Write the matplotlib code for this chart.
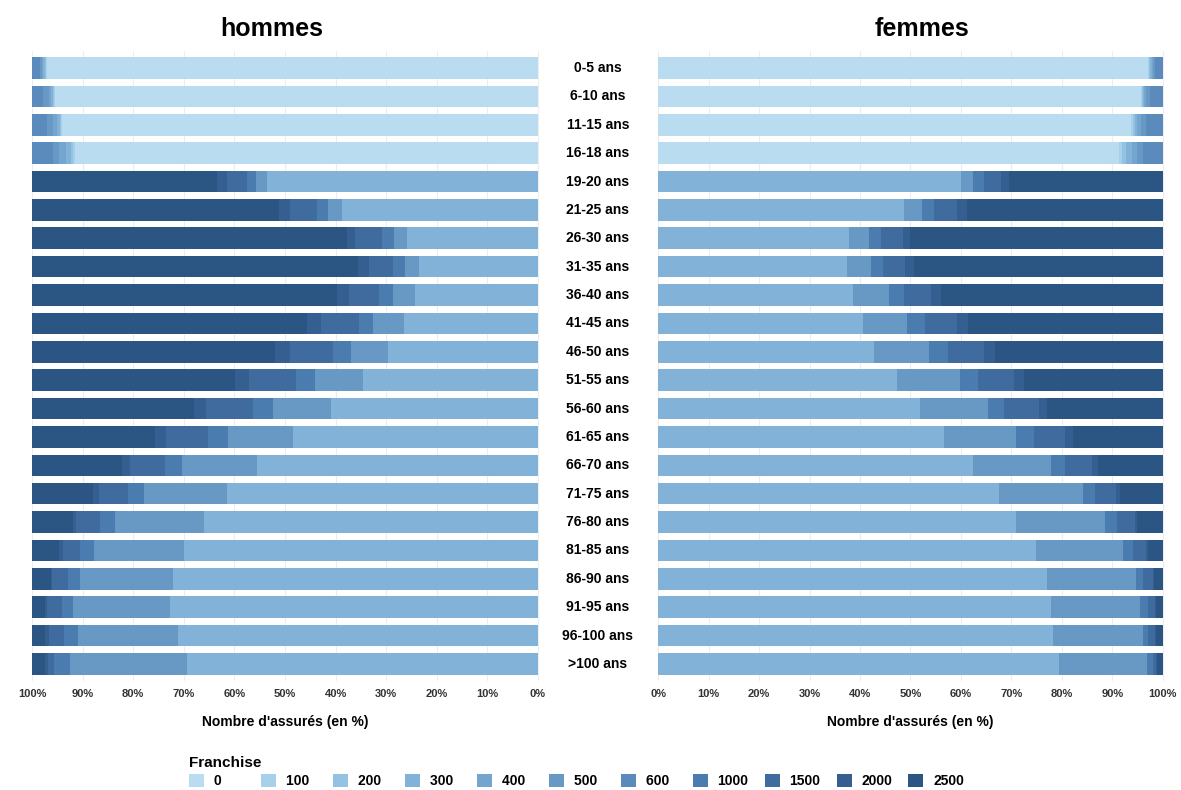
import matplotlib.pyplot as plt
import matplotlib.transforms as mtransforms
from matplotlib.patches import Patch
import numpy as np

plt.rcParams['font.family'] = ['Liberation Sans', 'DejaVu Sans']

# Tranches d'âge (de haut en bas)
ages = ['0-5 ans', '6-10 ans', '11-15 ans', '16-18 ans', '19-20 ans', '21-25 ans',
        '26-30 ans', '31-35 ans', '36-40 ans', '41-45 ans', '46-50 ans', '51-55 ans',
        '56-60 ans', '61-65 ans', '66-70 ans', '71-75 ans', '76-80 ans', '81-85 ans',
        '86-90 ans', '91-95 ans', '96-100 ans', '>100 ans']

franchises = ['0', '100', '200', '300', '400', '500', '600', '1000', '1500', '2000', '2500']

# Hommes, part des assurés (%) par franchise
h_0 = [97.0, 95.4, 94.1, 91.5, 0, 0, 0, 0, 0, 0, 0, 0, 0, 0, 0, 0, 0, 0, 0, 0, 0, 0]
h_100 = [0.3, 0.2, 0.2, 0.4, 0, 0, 0, 0, 0, 0, 0, 0, 0, 0, 0, 0, 0, 0, 0, 0, 0, 0]
h_200 = [0.2, 0.2, 0.2, 0.5, 0, 0, 0, 0, 0, 0, 0, 0, 0, 0, 0, 0, 0, 0, 0, 0, 0, 0]
h_300 = [0.3, 0.4, 0.5, 0.8, 53.6, 38.7, 25.8, 23.6, 24.2, 26.5, 29.6, 34.6,
         40.9, 48.4, 55.5, 61.5, 66.0, 69.9, 72.1, 72.7, 71.1, 69.4]
h_400 = [0.3, 0.5, 0.8, 1.4, 0, 0, 0, 0, 0, 0, 0, 0, 0, 0, 0, 0, 0, 0, 0, 0, 0, 0]
h_500 = [0.3, 1.1, 1.2, 1.2, 2.1, 2.7, 2.7, 2.7, 4.5, 6.0, 7.4, 9.5,
         11.5, 12.8, 14.8, 16.3, 17.7, 17.8, 18.5, 19.3, 19.9, 23.2]
h_600 = [1.6, 2.2, 3.0, 4.2, 0, 0, 0, 0, 0, 0, 0, 0, 0, 0, 0, 0, 0, 0, 0, 0, 0, 0]
h_1000 = [0, 0, 0, 0, 1.9, 2.3, 2.4, 2.4, 2.7, 2.8, 3.5, 3.7,
          3.9, 4.0, 3.4, 3.2, 2.9, 2.8, 2.2, 2.0, 2.6, 3.0]
h_1500 = [0, 0, 0, 0, 3.9, 5.3, 5.3, 4.7, 6.0, 7.5, 8.5, 9.4,
          9.3, 8.3, 6.9, 5.8, 4.8, 3.4, 3.2, 3.0, 3.1, 1.2]
h_2000 = [0, 0, 0, 0, 2.0, 2.1, 1.6, 2.2, 2.4, 2.8, 2.9, 2.6,
          2.4, 2.1, 1.7, 1.2, 0.6, 0.8, 0.3, 0.4, 0.7, 0.6]
h_2500 = [0, 0, 0, 0, 36.5, 48.9, 62.2, 64.4, 60.2, 54.4, 48.1, 40.2,
          32.0, 24.4, 17.7, 12.0, 8.0, 5.3, 3.7, 2.6, 2.6, 2.6]

# Femmes, part des assurées (%) par franchise
f_0 = [97.1, 95.6, 93.7, 91.4, 0, 0, 0, 0, 0, 0, 0, 0, 0, 0, 0, 0, 0, 0, 0, 0, 0, 0]
f_100 = [0.2, 0.2, 0.3, 0.5, 0, 0, 0, 0, 0, 0, 0, 0, 0, 0, 0, 0, 0, 0, 0, 0, 0, 0]
f_200 = [0.2, 0.2, 0.4, 0.8, 0, 0, 0, 0, 0, 0, 0, 0, 0, 0, 0, 0, 0, 0, 0, 0, 0, 0]
f_300 = [0.3, 0.3, 0.5, 1.1, 60.0, 48.7, 37.9, 37.5, 38.7, 40.5, 42.7, 47.3,
         51.9, 56.6, 62.4, 67.5, 71.0, 74.9, 77.0, 77.8, 78.2, 79.5]
f_400 = [0.3, 0.4, 0.8, 1.0, 0, 0, 0, 0, 0, 0, 0, 0, 0, 0, 0, 0, 0, 0, 0, 0, 0, 0]
f_500 = [0.4, 0.7, 1.0, 1.2, 2.3, 3.6, 3.9, 4.7, 7.1, 8.9, 11.0, 12.5,
         13.4, 14.4, 15.4, 16.6, 17.6, 17.2, 17.6, 17.7, 17.8, 17.4]
f_600 = [1.5, 2.6, 3.3, 4.0, 0, 0, 0, 0, 0, 0, 0, 0, 0, 0, 0, 0, 0, 0, 0, 0, 0, 0]
f_1000 = [0, 0, 0, 0, 2.3, 2.4, 2.3, 2.4, 2.9, 3.4, 3.7, 3.6,
          3.3, 3.5, 2.8, 2.4, 2.4, 1.9, 1.5, 1.6, 1.1, 1.2]
f_1500 = [0, 0, 0, 0, 3.3, 4.6, 4.5, 4.3, 5.3, 6.5, 7.2, 7.2,
          6.8, 6.1, 5.3, 4.2, 3.5, 2.6, 2.0, 1.3, 1.3, 0.6]
f_2000 = [0, 0, 0, 0, 1.6, 1.8, 1.3, 1.8, 2.0, 2.1, 2.1, 1.9,
          1.7, 1.5, 1.2, 0.9, 0.4, 0.4, 0.2, 0.3, 0.3, 0.2]
f_2500 = [0, 0, 0, 0, 30.5, 38.9, 50.1, 49.3, 44.0, 38.6, 33.3, 27.5,
          22.9, 17.9, 12.9, 8.4, 5.1, 3.0, 1.7, 1.3, 1.3, 1.1]

colors = ['#b9dcf0', '#a7d0eb', '#94c2e3', '#83b2d8', '#74a5cf', '#6898c4',
          '#5b8bbc', '#4b7caf', '#3f6b9e', '#355f90', '#2b5684']

hommes = [h_0, h_100, h_200, h_300, h_400, h_500, h_600, h_1000, h_1500, h_2000, h_2500]
femmes = [f_0, f_100, f_200, f_300, f_400, f_500, f_600, f_1000, f_1500, f_2000, f_2500]

fig = plt.figure(figsize=(11.81, 7.90), dpi=100)
ax_h = fig.add_axes([0.0186, 0.138, 0.4454, 0.7975])
ax_f = fig.add_axes([0.5487, 0.138, 0.4445, 0.7975])


def draw_panel(ax, series):
    y = np.arange(len(ages))
    left = np.zeros(len(ages))
    for vals, col in zip(series, colors):
        vals = np.array(vals)
        ax.barh(y, vals, left=left, height=0.76, color=col, edgecolor='none')
        left += vals
    ax.set_ylim(len(ages) - 0.4, -0.6)
    ax.set_yticks([])
    ticks = np.arange(0, 101, 10)
    ax.set_xticks(ticks)
    ax.set_xticklabels([f'{t}%' for t in ticks], fontsize=8,
                       fontweight='bold', color='#333333')
    ax.tick_params(length=0, pad=6)
    ax.grid(axis='x', color='#ededed', linewidth=0.8)
    ax.set_axisbelow(True)
    for s in ax.spines.values():
        s.set_visible(False)
    ax.set_xlabel("Nombre d'assurés (en %)", fontsize=10, fontweight='bold',
                  labelpad=11)


draw_panel(ax_h, hommes)
draw_panel(ax_f, femmes)
ax_h.set_xlim(102, -2)
ax_f.set_xlim(-2, 102)

ax_h.set_title('hommes', fontsize=18, fontweight='bold', x=0.475, pad=11)
ax_f.set_title('femmes', fontsize=18, fontweight='bold', x=0.522, pad=11)

# Libellés des tranches d'âge au centre
trans = mtransforms.blended_transform_factory(fig.transFigure, ax_h.transData)
for i, a in enumerate(ages):
    fig.text(598 / 1181, i, a, transform=trans, ha='center', va='center',
             fontsize=10, fontweight='bold')

# libellés de largeur égale (espaces de chiffre) pour des colonnes régulières
width = max(len(f) for f in franchises)
leg_labels = [f + '\u2007' * (width - len(f)) for f in franchises]

handles = [Patch(facecolor=c, edgecolor='none') for c in colors]
leg = fig.legend(handles, leg_labels, loc='upper left',
                 bbox_to_anchor=(182 / 1181, 1 - 749 / 790), ncol=len(franchises),
                 frameon=False, title='Franchise', alignment='left',
                 title_fontproperties={'weight': 'bold', 'size': 11},
                 prop={'weight': 'bold', 'size': 10}, borderpad=0,
                 labelspacing=0.3,
                 handlelength=1.08, handleheight=1.08, handletextpad=0.72,
                 columnspacing=1.15)

plt.savefig('out.png', dpi=100)
